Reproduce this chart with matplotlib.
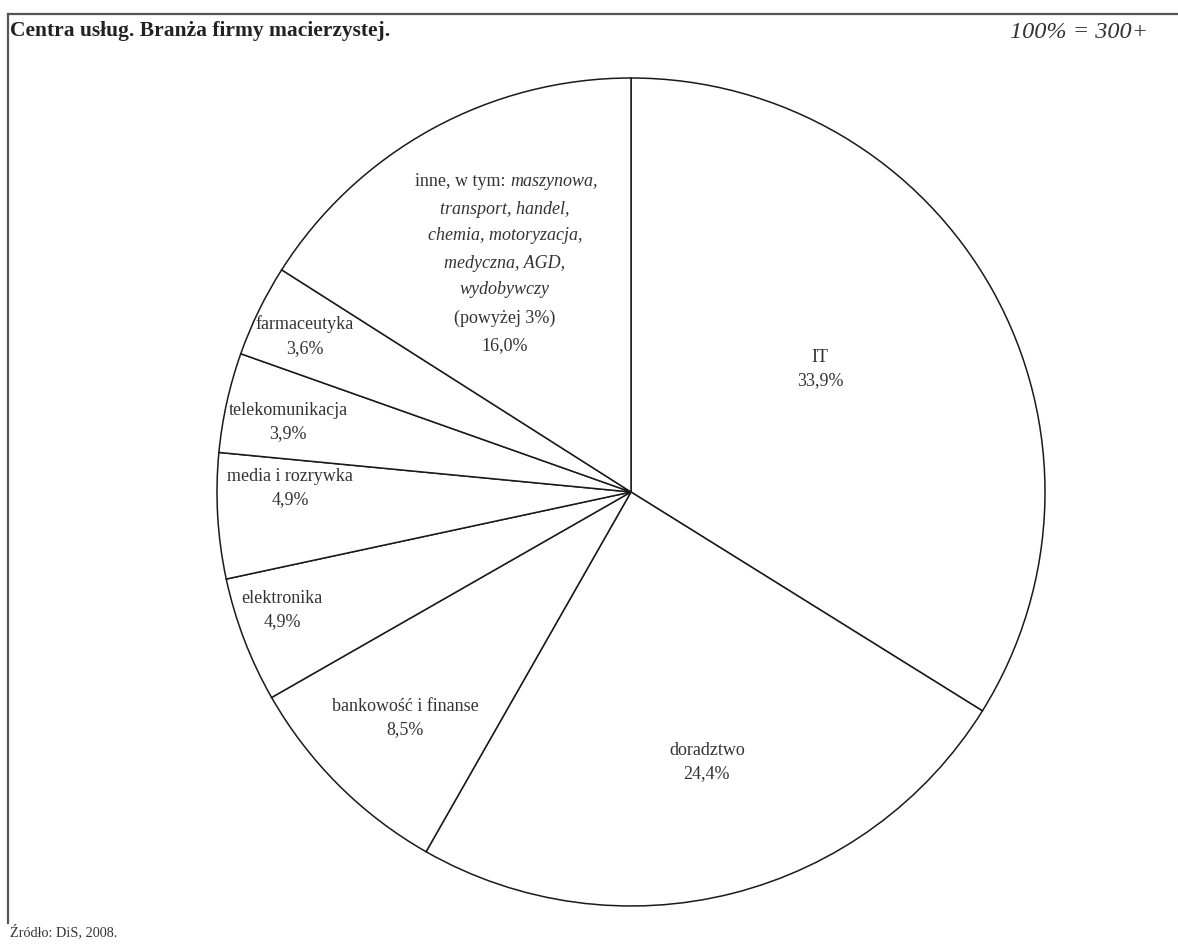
import matplotlib
matplotlib.use("Agg")
import matplotlib.pyplot as plt
from matplotlib.lines import Line2D

plt.rcParams['font.family'] = ['Liberation Serif', 'DejaVu Serif']

# ---- data ----
categories = ["IT", "doradztwo", "bankowość i finanse", "elektronika",
              "media i rozrywka", "telekomunikacja", "farmaceutyka", "inne"]
shares = [33.9, 24.4, 8.5, 4.9, 4.9, 3.9, 3.6, 16.0]
value_labels = ["33,9%", "24,4%", "8,5%", "4,9%", "4,9%", "3,9%", "3,6%", "16,0%"]
title = "Centra usług. Branża firmy macierzystej."
base_note = "100% = 300+"
source = "Źródło: DiS, 2008."

W, H = 1178, 944
fig = plt.figure(figsize=(W / 100, H / 100), dpi=100)
ax = fig.add_axes([0, 0, 1, 1])

cx, cy, R = 631, H - 492, 414
ax.pie(shares, startangle=90, counterclock=False, center=(cx, cy), radius=R,
       colors=['white'] * len(shares),
       wedgeprops=dict(edgecolor='#1a1a1a', linewidth=1.1), frame=True)
ax.set_xlim(0, W)
ax.set_ylim(0, H)
ax.set_aspect('equal')
ax.axis('off')

txt_col = '#333333'
fs = 13

# label positions (image pixel coords, y downward)
label_pos = {
    "IT": (820, 369),
    "doradztwo": (707, 762),
    "bankowość i finanse": (405, 718),
    "elektronika": (282, 610),
    "media i rozrywka": (290, 488),
    "telekomunikacja": (288, 422),
    "farmaceutyka": (305, 336),
}
for cat, val in zip(categories, value_labels):
    if cat in label_pos:
        x, y = label_pos[cat]
        ax.text(x, H - y, f"{cat}\n{val}", ha='center', va='center',
                fontsize=fs, color=txt_col, linespacing=1.5)

# "inne" multi-line label with italic items
inne_val = value_labels[categories.index("inne")]
ax.text(510, H - 182, "inne, w tym: ", ha='right', va='center', fontsize=fs, color=txt_col)
ax.text(510, H - 182, "maszynowa,", ha='left', va='center', fontsize=fs, color=txt_col, style='italic')
italic_lines = ["transport, handel,", "chemia, motoryzacja,", "medyczna, AGD,", "wydobywczy"]
ys = [209, 236, 263, 290]
for t, y in zip(italic_lines, ys):
    ax.text(505, H - y, t, ha='center', va='center', fontsize=fs, color=txt_col, style='italic')
ax.text(505, H - 318, "(powyżej 3%)", ha='center', va='center', fontsize=fs, color=txt_col)
ax.text(505, H - 346, inne_val, ha='center', va='center', fontsize=fs, color=txt_col)

# frame lines
fig.add_artist(Line2D([8 / W, 1.0], [1 - 14 / H, 1 - 14 / H], transform=fig.transFigure,
                      color='#555555', linewidth=1.6))
fig.add_artist(Line2D([8 / W, 8 / W], [1 - 14 / H, 1 - 923 / H], transform=fig.transFigure,
                      color='#555555', linewidth=1.6))

# title texts
fig.text(10 / W, 1 - 31 / H, title, ha='left', va='center', fontsize=15.5,
         fontweight='bold', color='#222222')
fig.text(1148 / W, 1 - 32 / H, base_note, ha='right', va='center', fontsize=17.5,
         style='italic', color='#333333')
fig.text(10 / W, 1 - 932 / H, source, ha='left', va='center', fontsize=10.3, color='#333333')

fig.savefig("out.png", dpi=100)
